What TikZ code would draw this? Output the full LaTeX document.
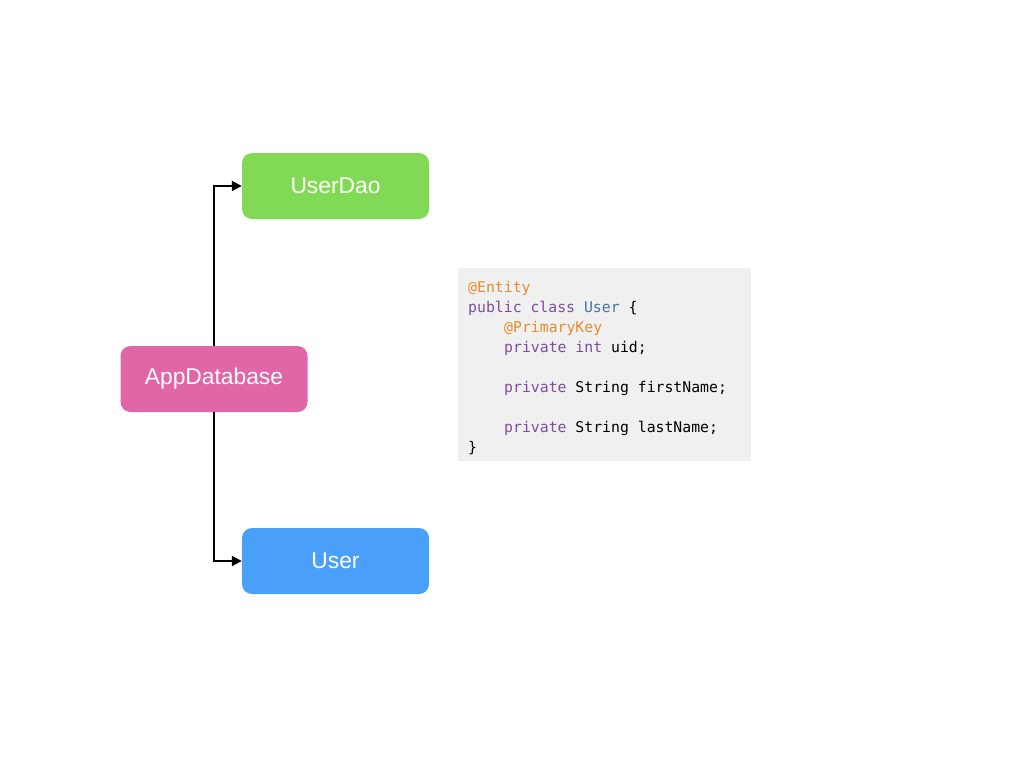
\documentclass[tikz,border=0pt]{standalone}
\usepackage{fontspec}
\setsansfont{Liberation Sans}
\setmonofont{DejaVu Sans Mono}
\usetikzlibrary{arrows.meta}
\definecolor{daogreen}{HTML}{82D955}
\definecolor{dbpink}{HTML}{E066A8}
\definecolor{entityblue}{HTML}{4AA0F8}
\definecolor{codebg}{HTML}{F0F0F0}
\definecolor{kwpurple}{HTML}{7E4C9F}
\definecolor{annorange}{HTML}{EA8A2C}
\definecolor{typeblue}{HTML}{4870A8}
\newcommand{\kw}[1]{\textcolor{kwpurple}{#1}}
\newcommand{\ann}[1]{\textcolor{annorange}{#1}}
\begin{document}
\begin{tikzpicture}[x=1pt,y=-1pt,
  box/.style={rounded corners=10pt, minimum width=187pt, minimum height=66pt, inner sep=0pt,
    text=white, font=\sffamily\fontsize{22.8}{26}\selectfont},
  codeline/.style={anchor=base west, inner sep=0pt, font=\ttfamily\fontsize{14.8}{20}\selectfont},
  link/.style={line width=2pt, -{Triangle[length=10pt,width=10pt]}}]
\useasboundingbox (0,0) rectangle (1024,768);

\node (dao) at (335.5,186) [box,fill=daogreen]{UserDao};
\node (app) at (214,379) [box,fill=dbpink]{AppDatabase};
\node (user) at (335.5,561) [box,fill=entityblue]{User};

\draw[link] (app.north) |- (dao.west);
\draw[link] (app.south) |- (user.west);

% entity source
\node (code) at (604.5,364.5) [fill=codebg,minimum width=293pt,minimum height=193pt,inner sep=0pt]{};
\node (l1) at (468,292) [codeline]{\ann{@Entity}};
\node (l2) at (468,312) [codeline]{\kw{public class} \textcolor{typeblue}{User} \{};
\node (l3) at (504,332) [codeline]{\ann{@PrimaryKey}};
\node (l4) at (504,352) [codeline]{\kw{private int} uid;};
\node (l5) at (504,392) [codeline]{\kw{private} String firstName;};
\node (l6) at (504,432) [codeline]{\kw{private} String lastName;};
\node (l7) at (468,452) [codeline]{\}};

\end{tikzpicture}
\end{document}
